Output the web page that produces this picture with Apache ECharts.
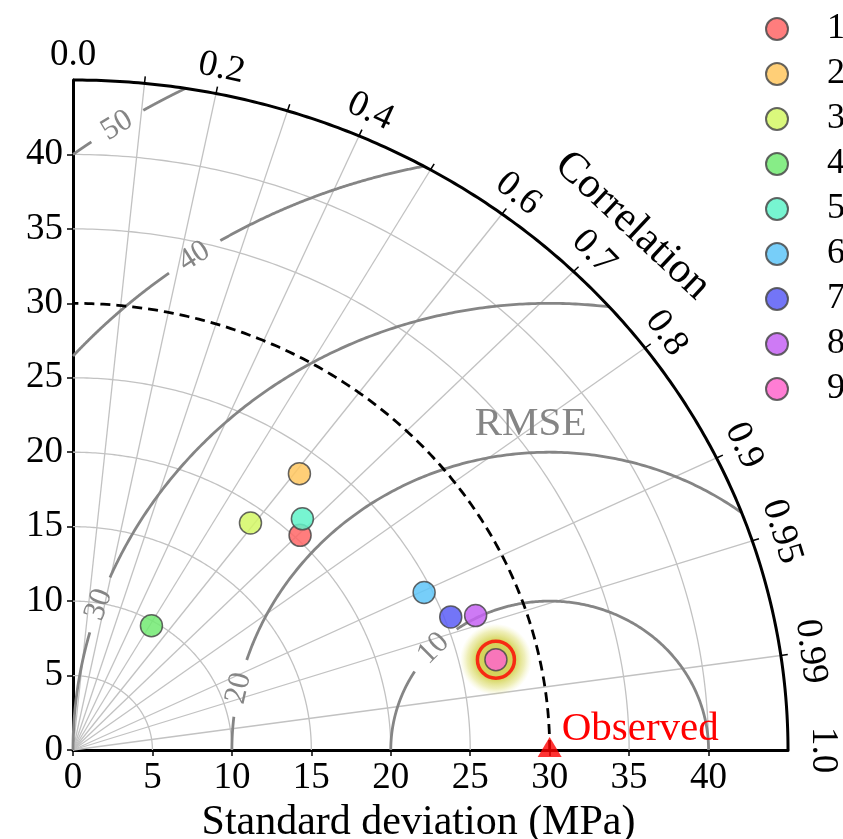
<!DOCTYPE html>
<html>
<head>
<meta charset="utf-8">
<script src="https://cdn.jsdelivr.net/npm/echarts@6/dist/echarts.min.js"></script>
<style>
html,body{margin:0;padding:0;background:#fff;}
#chart{width:843px;height:839px;}
</style>
</head>
<body>
<div id="chart"></div>
<script>
// ---------------- data ----------------
const modelNames = ['1', '2', '3', '4', '5', '6', '7', '8', '9'];
const modelStd = [20.3, 23.4, 18.9, 9.7, 21.2, 24.5, 25.4, 26.9, 27.3];
const modelCorr = [0.704, 0.609, 0.591, 0.509, 0.681, 0.902, 0.936, 0.942, 0.975];
const modelColors = ['#ff6666', '#ffc75f', '#d4f765', '#72ea72', '#5ff3c9', '#5fc6f8', '#5b5df6', '#c563f3', '#ff66cc'];
const observedStd = 30;
const highlightedModel = '9';
const stdMax = 45;
const stdTicks = [0, 5, 10, 15, 20, 25, 30, 35, 40];
const stdGridLevels = [5, 10, 15, 20, 25, 35, 40];
const corrGridLevels = [0.1, 0.2, 0.3, 0.4, 0.5, 0.6, 0.7, 0.8, 0.9, 0.95, 0.99];
const corrTickLabels = ['0.0', '0.2', '0.4', '0.6', '0.7', '0.8', '0.9', '0.95', '0.99', '1.0'];
const rmseLevels = [10, 20, 30, 40, 50];

// ---------------- layout / style ----------------
const FONT = 'Liberation Serif';
const GRID_GRAY = '#c2c2c2';
const RMSE_GRAY = '#858585';
const corrLabelOffsetPx = [25, 26, 27, 26, 28, 26, 30, 31, 30, 35];
const rmseLabelAngleDeg = [137, 168, 161, 124, 123];
const rmseTitlePos = [28.8, 21.9];
const corrTitlePolar = [49.8, 45]; // radius, degrees

function toXY(std, corr) {
  return [std * corr, std * Math.sqrt(Math.max(0, 1 - corr * corr))];
}

const hi = modelNames.indexOf(highlightedModel);

const chart = echarts.init(document.getElementById('chart'), null, { renderer: 'canvas' });

function textStyle(text, size, color) {
  return {
    text: text, fill: color, fontSize: size, fontFamily: FONT,
    align: 'center', verticalAlign: 'middle', textAlign: 'center', textVerticalAlign: 'middle'
  };
}

const series = [];

// std grid arcs
series.push({
  type: 'custom', coordinateSystem: 'cartesian2d', z: 1, clip: false, silent: true,
  data: stdGridLevels.map(r => [r, 0]),
  renderItem: function (params, api) {
    const r = api.value(0);
    const pts = [];
    for (let i = 0; i <= 180; i++) {
      const a = Math.PI / 2 * i / 180;
      pts.push(api.coord([r * Math.cos(a), r * Math.sin(a)]));
    }
    return { type: 'polyline', shape: { points: pts }, style: { stroke: GRID_GRAY, lineWidth: 1.3, fill: null } };
  }
});

// radial correlation lines + outer ticks
series.push({
  type: 'custom', coordinateSystem: 'cartesian2d', z: 1, clip: false, silent: true,
  data: corrGridLevels.map(c => [c, 0]),
  renderItem: function (params, api) {
    const c = api.value(0);
    const o = api.coord([0, 0]);
    const p = api.coord(toXY(stdMax, c));
    let dx = p[0] - o[0], dy = p[1] - o[1];
    const L = Math.hypot(dx, dy); dx /= L; dy /= L;
    return {
      type: 'group', children: [
        { type: 'line', shape: { x1: o[0], y1: o[1], x2: p[0], y2: p[1] }, style: { stroke: GRID_GRAY, lineWidth: 1.3 } },
        { type: 'line', shape: { x1: p[0], y1: p[1], x2: p[0] + dx * 7, y2: p[1] + dy * 7 }, style: { stroke: '#000', lineWidth: 1.5 } }
      ]
    };
  }
});

// RMSE arcs with labels
series.push({
  type: 'custom', coordinateSystem: 'cartesian2d', z: 2, clip: false, silent: true,
  data: rmseLevels.map((r, i) => [r, rmseLabelAngleDeg[i]]),
  renderItem: function (params, api) {
    const R = api.value(0);
    const labAng = api.value(1) * Math.PI / 180;
    const ox = observedStd;
    const unit = api.size([1, 1]);
    const ppu = (unit[0] + unit[1]) / 2;
    const cosMin = Math.max(-1, Math.min(1, (stdMax * stdMax - ox * ox - R * R) / (2 * ox * R)));
    const phiMin = Math.acos(cosMin);
    const phiMax = Math.acos(Math.max(-1, -ox / R));
    const gap = 30 / (R * ppu);
    const segs = [[phiMin, labAng - gap], [labAng + gap, phiMax]];
    const children = [];
    segs.forEach(function (s) {
      const a = s[0], b = s[1];
      if (b <= a) return;
      const pts = [];
      const n = 200;
      for (let i = 0; i <= n; i++) {
        const t = a + (b - a) * i / n;
        pts.push(api.coord([ox + R * Math.cos(t), R * Math.sin(t)]));
      }
      children.push({ type: 'polyline', shape: { points: pts }, style: { stroke: RMSE_GRAY, lineWidth: 2.8, fill: null } });
    });
    const lp = api.coord([ox + R * Math.cos(labAng), R * Math.sin(labAng)]);
    const p1 = api.coord([ox + R * Math.cos(labAng - 0.01), R * Math.sin(labAng - 0.01)]);
    const p2 = api.coord([ox + R * Math.cos(labAng + 0.01), R * Math.sin(labAng + 0.01)]);
    let ang = Math.atan2(-(p2[1] - p1[1]), p2[0] - p1[0]);
    if (ang > Math.PI / 2) ang -= Math.PI;
    if (ang < -Math.PI / 2) ang += Math.PI;
    children.push({ type: 'text', x: lp[0], y: lp[1], rotation: ang, style: textStyle(String(R), 31, RMSE_GRAY) });
    return { type: 'group', children: children };
  }
});

// observed std dashed arc
series.push({
  type: 'custom', coordinateSystem: 'cartesian2d', z: 3, clip: false, silent: true,
  data: [[observedStd, 0]],
  renderItem: function (params, api) {
    const r = api.value(0);
    const pts = [];
    for (let i = 0; i <= 200; i++) {
      const a = Math.PI / 2 * i / 200;
      pts.push(api.coord([r * Math.cos(a), r * Math.sin(a)]));
    }
    return { type: 'polyline', shape: { points: pts }, style: { stroke: '#000', lineWidth: 2.8, fill: null, lineDash: [10, 6] } };
  }
});

// outer arc
series.push({
  type: 'custom', coordinateSystem: 'cartesian2d', z: 4, clip: false, silent: true,
  data: [[stdMax, 0]],
  renderItem: function (params, api) {
    const r = api.value(0);
    const pts = [];
    for (let i = 0; i <= 240; i++) {
      const a = Math.PI / 2 * i / 240;
      pts.push(api.coord([r * Math.cos(a), r * Math.sin(a)]));
    }
    return { type: 'polyline', shape: { points: pts }, style: { stroke: '#000', lineWidth: 3, fill: null } };
  }
});

// correlation tick labels
series.push({
  type: 'custom', coordinateSystem: 'cartesian2d', z: 4, clip: false, silent: true,
  data: corrTickLabels.map((t, i) => [parseFloat(t), corrLabelOffsetPx[i]]),
  renderItem: function (params, api) {
    const c = api.value(0);
    const off = api.value(1);
    const o = api.coord([0, 0]);
    const p = api.coord(toXY(stdMax, c));
    let dx = p[0] - o[0], dy = p[1] - o[1];
    const L = Math.hypot(dx, dy); dx /= L; dy /= L;
    const ang = Math.atan2(-dy, dx);
    return {
      type: 'text', x: p[0] + dx * off, y: p[1] + dy * off, rotation: ang - Math.PI / 2,
      style: textStyle(corrTickLabels[params.dataIndex], 37, '#000')
    };
  }
});

// titles: RMSE, Correlation
series.push({
  type: 'custom', coordinateSystem: 'cartesian2d', z: 4, clip: false, silent: true,
  data: [rmseTitlePos],
  renderItem: function (params, api) {
    const p = api.coord([api.value(0), api.value(1)]);
    return { type: 'text', x: p[0], y: p[1], style: textStyle('RMSE', 41, RMSE_GRAY) };
  }
});
series.push({
  type: 'custom', coordinateSystem: 'cartesian2d', z: 4, clip: false, silent: true,
  data: [[corrTitlePolar[0], corrTitlePolar[1]]],
  renderItem: function (params, api) {
    const r = api.value(0), a = api.value(1) * Math.PI / 180;
    const p = api.coord([r * Math.cos(a), r * Math.sin(a)]);
    const q = api.coord([r * Math.cos(a - 0.01), r * Math.sin(a - 0.01)]);
    const b = api.coord([r * Math.cos(a + 0.01), r * Math.sin(a + 0.01)]);
    const ang = Math.atan2(-(q[1] - b[1]), q[0] - b[0]);
    return { type: 'text', x: p[0], y: p[1], rotation: ang, style: textStyle('Correlation', 43, '#000') };
  }
});

// highlight glow
series.push({
  type: 'scatter', z: 8, silent: true,
  data: [toXY(modelStd[hi], modelCorr[hi])],
  symbol: 'circle', symbolSize: 72,
  itemStyle: {
    color: {
      type: 'radial', x: 0.5, y: 0.5, r: 0.5,
      colorStops: [
        { offset: 0, color: 'rgba(190,190,20,0.95)' },
        { offset: 0.55, color: 'rgba(195,195,25,0.85)' },
        { offset: 0.8, color: 'rgba(210,210,60,0.45)' },
        { offset: 1, color: 'rgba(230,230,120,0)' }
      ]
    }
  },
  emphasis: { disabled: true }
});

// model points
modelNames.forEach(function (name, i) {
  series.push({
    name: name, type: 'scatter', z: 10,
    data: [toXY(modelStd[i], modelCorr[i])],
    symbol: 'circle', symbolSize: 22,
    itemStyle: { color: modelColors[i], borderColor: '#4a4a4a', borderWidth: 1.5, opacity: 0.85 },
    emphasis: { disabled: true }
  });
});

// highlight ring
series.push({
  type: 'scatter', z: 12, silent: true,
  data: [toXY(modelStd[hi], modelCorr[hi])],
  symbol: 'circle', symbolSize: 37,
  itemStyle: { color: 'rgba(0,0,0,0)', borderColor: '#ff0000', borderWidth: 3.5 },
  emphasis: { disabled: true }
});

// observed marker
series.push({
  type: 'scatter', z: 12, silent: true,
  data: [[observedStd, 0]],
  symbol: 'triangle', symbolSize: [24, 20], symbolOffset: [0, -3],
  itemStyle: { color: '#ff0000' },
  emphasis: { disabled: true }
});
series.push({
  type: 'custom', coordinateSystem: 'cartesian2d', z: 12, clip: false, silent: true,
  data: [[observedStd, 0]],
  renderItem: function (params, api) {
    const p = api.coord([api.value(0), api.value(1)]);
    return {
      type: 'text', x: p[0] + 12, y: p[1] - 21,
      style: { text: 'Observed', fill: '#ff0000', fontSize: 41, fontFamily: FONT, align: 'left', verticalAlign: 'middle', textAlign: 'left', textVerticalAlign: 'middle' }
    };
  }
});

const axisCommon = {
  type: 'value', min: 0, max: stdMax, interval: 5,
  axisLine: { show: true, onZero: false, lineStyle: { color: '#000', width: 3 } },
  axisTick: { show: true, inside: false, length: 6, customValues: stdTicks, lineStyle: { color: '#000', width: 1.5 } },
  axisLabel: { show: true, customValues: stdTicks, fontFamily: FONT, fontSize: 37, color: '#000', margin: 10 },
  splitLine: { show: false }
};

const option = {
  backgroundColor: '#fff',
  animation: false,
  grid: { left: 73, top: 80, width: 715, height: 670, containLabel: false, outerBoundsMode: 'none' },
  xAxis: Object.assign({}, axisCommon, {
    name: 'Standard deviation (MPa)', nameLocation: 'middle', nameGap: 37,
    nameTextStyle: { fontFamily: FONT, fontSize: 42, color: '#000', padding: [0, 24, 0, 0] }
  }),
  yAxis: Object.assign({}, axisCommon),
  legend: {
    data: modelNames, orient: 'vertical', left: 760, top: 6,
    itemWidth: 22, itemHeight: 22, itemGap: 9, icon: 'circle',
    formatter: '{a|{name}}',
    textStyle: {
      fontFamily: FONT, fontSize: 36, color: '#000',
      rich: { a: { fontFamily: FONT, fontSize: 36, color: '#000', padding: [0, 0, 0, 34] } }
    },
    selectedMode: false
  },
  series: series
};

chart.setOption(option);
</script>
</body>
</html>
